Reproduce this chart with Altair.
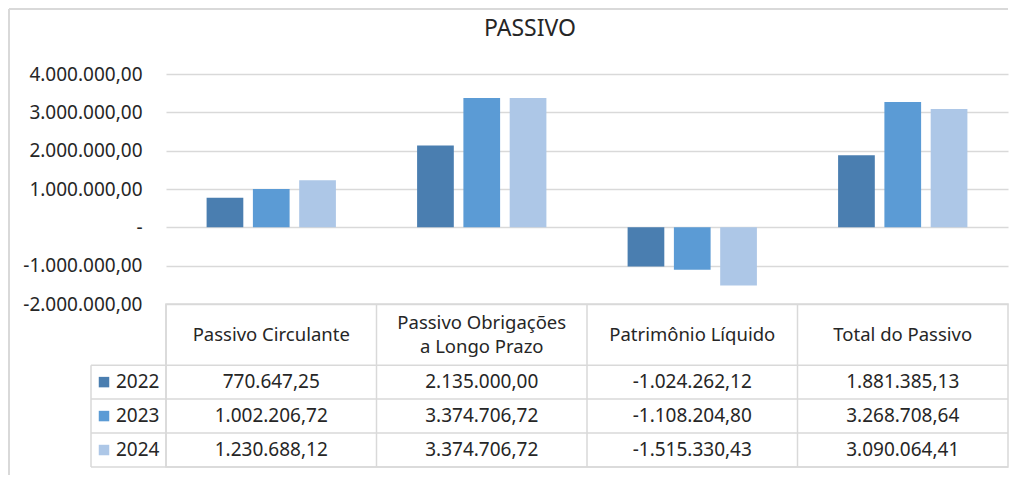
import altair as alt
import pandas as pd

# ---------------- data ----------------
categories = ["Passivo Circulante", "Passivo Obrigações a Longo Prazo",
              "Patrimônio Líquido", "Total do Passivo"]
header_labels = ["Passivo Circulante", "Passivo Obrigações\na Longo Prazo",
                 "Patrimônio Líquido", "Total do Passivo"]
years = ["2022", "2023", "2024"]
values_2022 = [770647.25, 2135000.00, -1024262.12, 1881385.13]
values_2023 = [1002206.72, 3374706.72, -1108204.80, 3268708.64]
values_2024 = [1230688.12, 3374706.72, -1515330.43, 3090064.41]
y_ticks = [-2000000, -1000000, 0, 1000000, 2000000, 3000000, 4000000]
colors = ["#4A7EB0", "#5B9BD5", "#ADC7E7"]

FONT = "Noto Sans"
TXT = "#262626"
LINE = "#D9D9D9"
W, HA, HB = 842, 230, 163
HEADER_ROWS = 1.8          # header height in table-row units
ROW_PX = HB / (HEADER_ROWS + 3)
HEADER_LH = 24

series = {"2022": values_2022, "2023": values_2023, "2024": values_2024}
rows = []
for i, yr in enumerate(years):
    for c, v in zip(categories, series[yr]):
        rows.append({"cat": c, "year": yr, "value": v, "row": HEADER_ROWS + i + 0.5})
df = pd.DataFrame(rows)

legend_df = pd.DataFrame({"year": years, "row": [HEADER_ROWS + i + 0.5 for i in range(3)]})
header_df = pd.DataFrame({
    "cat": categories, "label": header_labels,
    "row": [HEADER_ROWS / 2 - (lab.count("\n") * HEADER_LH / 2) / ROW_PX for lab in header_labels],
})
hlines_df = pd.DataFrame({"yl": [HEADER_ROWS + k for k in range(4)]})
vlines_df = pd.DataFrame({"cat": categories})
legend_edge_df = pd.DataFrame({"y1": [HEADER_ROWS], "y2": [HEADER_ROWS + 3]})

fmt = ("join(split(join(split(join(split(join(split(format(datum.value, ',.2f'), ','), '#'), '.'), ','), '#'), '.'), '\u2212'), '-')")

color_scale = alt.Scale(domain=years, range=colors)
x_scale = alt.Scale(domain=categories, paddingInner=0, paddingOuter=0)

# ---------------- bar chart ----------------
bars = alt.Chart(df).mark_bar().encode(
    x=alt.X("cat:N", sort=categories, scale=x_scale, axis=None),
    xOffset=alt.XOffset("year:N", sort=years,
                        scale=alt.Scale(paddingInner=0.207, paddingOuter=0.877)),
    y=alt.Y("value:Q",
            scale=alt.Scale(domain=[-2000000, 4000000], nice=False, zero=False),
            axis=alt.Axis(values=y_ticks, title=None, domain=False, ticks=False,
                          grid=True, gridColor=LINE, gridWidth=1.5,
                          labelPadding=24, labelFont=FONT, labelFontSize=19,
                          labelColor=TXT,
                          labelExpr="datum.value == 0 ? '-\u00a0\u00a0' : " + fmt)),
    color=alt.Color("year:N", scale=color_scale, legend=None),
)

title_mark = alt.Chart(pd.DataFrame({"t": ["PASSIVO"]})).mark_text(
    font=FONT, fontSize=23, color=TXT, align="center", baseline="middle"
).encode(x=alt.value(364), y=alt.value(-45), text="t:N")

border_top = alt.Chart(pd.DataFrame({"a": [0]})).mark_rule(
    color=LINE, strokeWidth=2
).encode(x=alt.value(-157), x2=alt.value(W), y=alt.value(-65))
border_left = alt.Chart(pd.DataFrame({"a": [0]})).mark_rule(
    color=LINE, strokeWidth=2
).encode(x=alt.value(-157), y=alt.value(-65), y2=alt.value(HA + HB + 8))

chart_a = alt.layer(bars, title_mark, border_top, border_left).properties(
    width=W, height=HA)

# ---------------- data table ----------------
y_scale = alt.Scale(domain=[0, HEADER_ROWS + 3], reverse=True, nice=False, zero=False)
xs = alt.X("cat:N", sort=categories, scale=x_scale, axis=None)

vals = alt.Chart(df).transform_calculate(label=fmt).mark_text(
    font=FONT, fontSize=19, color=TXT, align="center", baseline="middle"
).encode(x=xs, y=alt.Y("row:Q", scale=y_scale, axis=None), text="label:N")

header = alt.Chart(header_df).mark_text(
    font=FONT, fontSize=18.5, color=TXT, align="center", baseline="middle",
    lineBreak="\n", lineHeight=HEADER_LH
).encode(x=xs, y=alt.Y("row:Q", scale=y_scale, axis=None), text="label:N")

vlines = alt.Chart(vlines_df).mark_rule(color=LINE, strokeWidth=1.5).encode(
    x=alt.X("cat:N", sort=categories, scale=x_scale, axis=None, bandPosition=0),
    y=alt.value(0), y2=alt.value(HB))

hlines = alt.Chart(hlines_df).mark_rule(color=LINE, strokeWidth=1.5).encode(
    y=alt.Y("yl:Q", scale=y_scale, axis=None), x=alt.value(-75), x2=alt.value(W))

legend_edge = alt.Chart(legend_edge_df).mark_rule(color=LINE, strokeWidth=1.5).encode(
    x=alt.value(-75), y=alt.Y("y1:Q", scale=y_scale, axis=None), y2="y2:Q")

squares = alt.Chart(legend_df).mark_point(
    shape="square", filled=True, size=110, opacity=1
).encode(x=alt.value(-62), y=alt.Y("row:Q", scale=y_scale, axis=None),
         color=alt.Color("year:N", scale=color_scale, legend=None))

year_txt = alt.Chart(legend_df).mark_text(
    font=FONT, fontSize=19, color=TXT, align="left", baseline="middle"
).encode(x=alt.value(-50), y=alt.Y("row:Q", scale=y_scale, axis=None), text="year:N")

chart_b = alt.layer(vlines, hlines, legend_edge, header, vals, squares, year_txt).properties(
    width=W, height=HB,
    view=alt.ViewBackground(stroke=LINE, strokeWidth=1.5))

chart = alt.vconcat(chart_a, chart_b, spacing=0, bounds="flush").properties(
    padding=0
).configure_view(stroke=None)

chart.save("out.html", embed_options={"renderer": "svg", "actions": False})
